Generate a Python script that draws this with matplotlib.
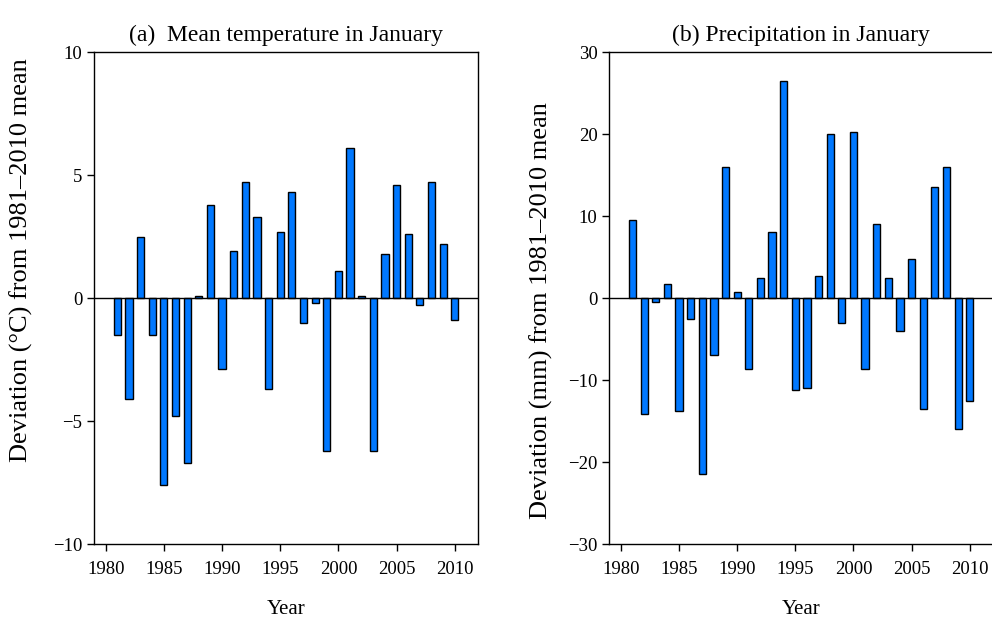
import matplotlib as mpl

mpl.use('Agg')
import matplotlib.pyplot as plt
import numpy as np

plt.rcParams['font.family'] = ['Liberation Serif', 'DejaVu Serif']

years = np.arange(1981, 2011)

# January anomalies relative to the 1981-2010 mean
temp_dev = [-1.5, -4.1, 2.5, -1.5, -7.6, -4.8, -6.7, 0.1, 3.8, -2.9,
            1.9, 4.7, 3.3, -3.7, 2.7, 4.3, -1.0, -0.2, -6.2, 1.1,
            6.1, 0.1, -6.2, 1.8, 4.6, 2.6, -0.3, 4.7, 2.2, -0.9]
prec_dev = [9.5, -14.2, -0.5, 1.7, -13.8, -2.6, -21.5, -7.0, 16.0, 0.7,
            -8.7, 2.5, 8.0, 26.5, -11.2, -11.0, 2.7, 20.0, -3.0, 20.2,
            -8.7, 9.0, 2.5, -4.0, 4.7, -13.5, 13.5, 16.0, -16.0, -12.5]

year_ticks = [1980, 1985, 1990, 1995, 2000, 2005, 2010]
temp_ticks = [-10, -5, 0, 5, 10]
prec_ticks = [-30, -20, -10, 0, 10, 20, 30]

bar_color = '#0078ff'

fig = plt.figure(figsize=(9.92, 6.18), dpi=100)
ax1 = fig.add_axes([0.0948, 0.1197, 0.3871, 0.7961])
ax2 = fig.add_axes([0.6142, 0.1197, 0.3868, 0.7961])

# (axes, values, y ticks, title, y label, y label position in axes coords)
panels = [
    (ax1, temp_dev, temp_ticks, '(a)  Mean temperature in January',
     'Deviation (\u00b0C) from 1981\u20132010 mean', (-0.158, 0.577)),
    (ax2, prec_dev, prec_ticks, '(b) Precipitation in January',
     'Deviation (mm) from 1981\u20132010 mean', (-0.146, 0.475)),
]

for ax, vals, yt, title, ylab, ypos in panels:
    ax.bar(years, vals, width=0.62, color=bar_color, edgecolor='black',
           linewidth=1.0, zorder=2)
    ax.axhline(0, color='black', linewidth=1.0, zorder=3)
    ax.set_xlim(1979, 2012)
    ax.set_ylim(yt[0], yt[-1])
    ax.set_xticks(year_ticks)
    ax.set_yticks(yt)
    ax.set_yticklabels([str(v).replace('-', '\u2212') for v in yt])
    ax.tick_params(direction='out', length=5, width=1.0, labelsize=13.5)
    ax.tick_params(axis='x', pad=7)
    for s in ax.spines.values():
        s.set_linewidth(1.0)
    ax.set_title(title, fontsize=17, pad=8)
    ax.set_ylabel(ylab, fontsize=19)
    ax.yaxis.set_label_coords(*ypos)
    ax.set_xlabel('Year', fontsize=15, labelpad=16)

plt.savefig('out.png', dpi=100)
